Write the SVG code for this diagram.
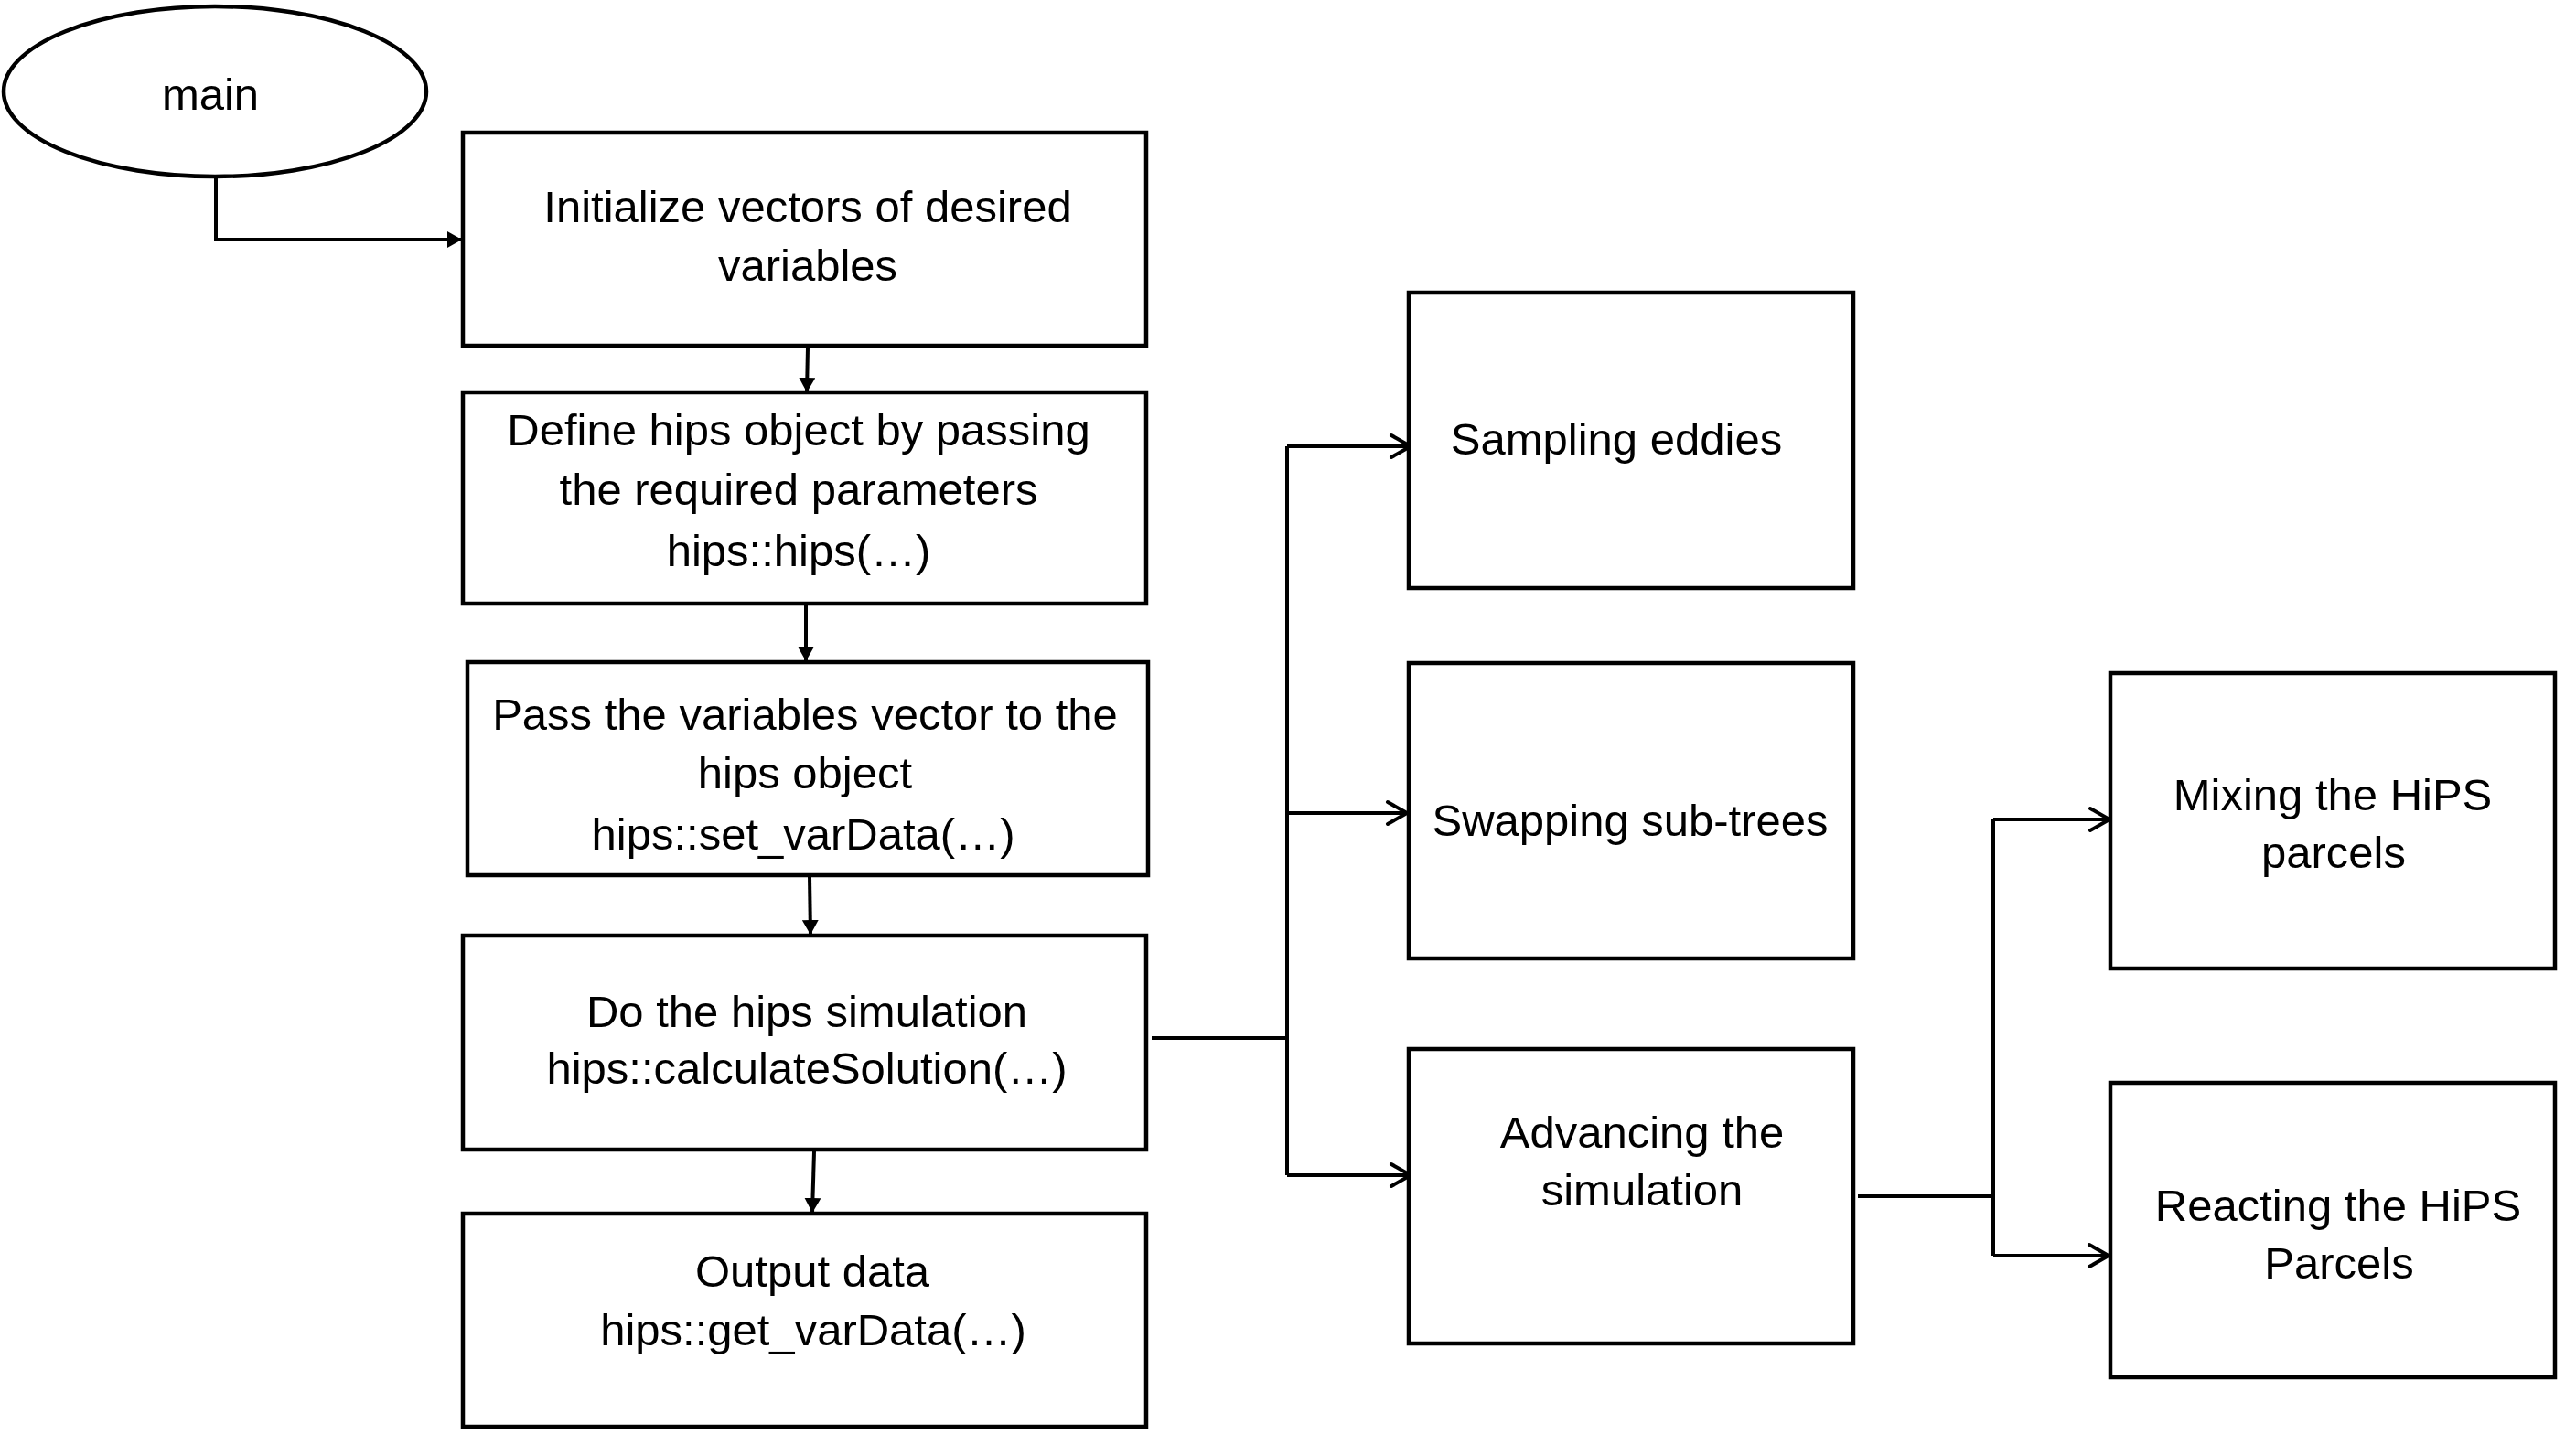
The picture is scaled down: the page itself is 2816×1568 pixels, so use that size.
<svg xmlns="http://www.w3.org/2000/svg" width="2816" height="1568" viewBox="0 0 2816 1568">
<style>
.node{fill:#fff;stroke:#000;stroke-width:4.5}
.lbl{font-family:"Liberation Sans",Arial,sans-serif;font-size:49px;fill:#000;text-anchor:middle}
.con{fill:none;stroke:#000;stroke-width:4}
</style>
<defs>
<marker id="tri" markerUnits="userSpaceOnUse" viewBox="0 0 16 18" refX="16" refY="9" markerWidth="16" markerHeight="18" orient="auto">
<path d="M0,0 L16,9 L0,18 z" fill="#000"/>
</marker>
<marker id="chev" markerUnits="userSpaceOnUse" viewBox="-26 -16 32 32" refX="0" refY="0" markerWidth="32" markerHeight="32" orient="auto" overflow="visible">
<path d="M-21,-12 L0,0 L-21,12" fill="none" stroke="#000" stroke-width="4" stroke-linecap="round" stroke-linejoin="round"/>
</marker>
</defs>
<rect width="2816" height="1568" fill="#fff"/>
<g id="connectors">
<path class="con" d="M236,193 V262 H505" marker-end="url(#tri)"/>
<path class="con" d="M883,380 L882,429" marker-end="url(#tri)"/>
<path class="con" d="M881,662 L881,723" marker-end="url(#tri)"/>
<path class="con" d="M885,959 L886,1022" marker-end="url(#tri)"/>
<path class="con" d="M890,1259 L888,1326" marker-end="url(#tri)"/>
<path class="con" d="M1259,1135 H1407 M1407,488 V1285"/>
<path class="con" d="M1407,488 H1542" marker-end="url(#chev)"/>
<path class="con" d="M1407,889 H1538" marker-end="url(#chev)"/>
<path class="con" d="M1407,1285 H1542" marker-end="url(#chev)"/>
<path class="con" d="M2031,1308 H2179 M2179,896 V1373"/>
<path class="con" d="M2179,896 H2306" marker-end="url(#chev)"/>
<path class="con" d="M2179,1373 H2305" marker-end="url(#chev)"/>
</g>
<g id="main">
<ellipse class="node" cx="235" cy="100" rx="231" ry="93"/>
<text class="lbl" x="230" y="120">main</text>
</g>
<g id="init">
<rect class="node" x="506" y="145" width="747" height="233"/>
<text class="lbl" x="883" y="243">Initialize vectors of desired</text>
<text class="lbl" x="883" y="307">variables</text>
</g>
<g id="define">
<rect class="node" x="506" y="429" width="747" height="231"/>
<text class="lbl" x="873" y="487">Define hips object by passing</text>
<text class="lbl" x="873" y="552">the required parameters</text>
<text class="lbl" x="873" y="619">hips::hips(…)</text>
</g>
<g id="pass">
<rect class="node" x="511" y="724" width="744" height="233"/>
<text class="lbl" x="880" y="798">Pass the variables vector to the</text>
<text class="lbl" x="880" y="862">hips object</text>
<text class="lbl" x="878" y="929">hips::set_varData(…)</text>
</g>
<g id="simulate">
<rect class="node" x="506" y="1023" width="747" height="234"/>
<text class="lbl" x="882" y="1123">Do the hips simulation</text>
<text class="lbl" x="882" y="1185">hips::calculateSolution(…)</text>
</g>
<g id="output">
<rect class="node" x="506" y="1327" width="747" height="233"/>
<text class="lbl" x="888" y="1407">Output data</text>
<text class="lbl" x="889" y="1471">hips::get_varData(…)</text>
</g>
<g id="sampling">
<rect class="node" x="1540" y="320" width="486" height="323"/>
<text class="lbl" x="1767" y="497">Sampling eddies</text>
</g>
<g id="swapping">
<rect class="node" x="1540" y="725" width="486" height="323"/>
<text class="lbl" x="1782" y="914">Swapping sub-trees</text>
</g>
<g id="advancing">
<rect class="node" x="1540" y="1147" width="486" height="322"/>
<text class="lbl" x="1795" y="1255">Advancing the</text>
<text class="lbl" x="1795" y="1318">simulation</text>
</g>
<g id="mixing">
<rect class="node" x="2307" y="736" width="486" height="323"/>
<text class="lbl" x="2550" y="886">Mixing the HiPS</text>
<text class="lbl" x="2551" y="949">parcels</text>
</g>
<g id="reacting">
<rect class="node" x="2307" y="1184" width="486" height="322"/>
<text class="lbl" x="2556" y="1335">Reacting the HiPS</text>
<text class="lbl" x="2557" y="1398">Parcels</text>
</g>
</svg>
